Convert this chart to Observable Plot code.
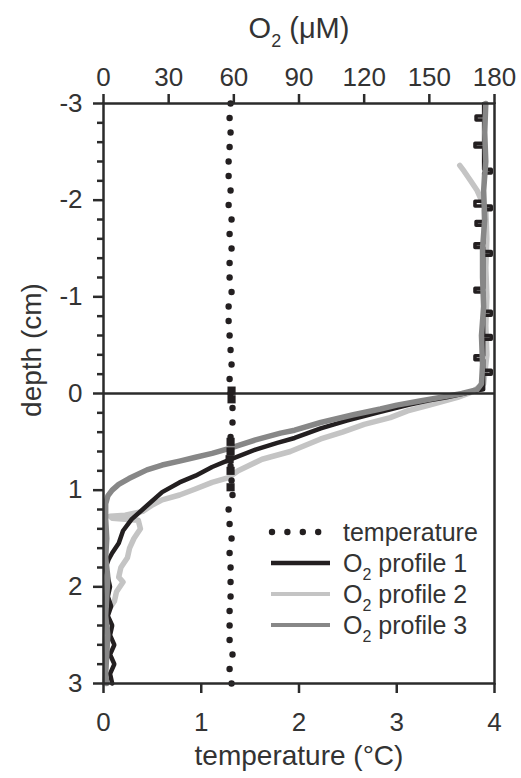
<!DOCTYPE html>
<html><head><meta charset="utf-8">
<script src="https://cdn.jsdelivr.net/npm/d3@7"></script>
<script src="https://cdn.jsdelivr.net/npm/@observablehq/plot@0.6"></script>
<style>
body{margin:0;background:#fff;}
#chart{width:521px;height:778px;}
</style>
</head><body><div id="chart"></div>
<script>
// ---- data ----
const tempTicks = [0, 1, 2, 3, 4];
const o2Ticks = [0, 30, 60, 90, 120, 150, 180];
const depthTicks = [-3, -2, -1, 0, 1, 2, 3];
const depthMinorTicks = [-2.8,-2.6,-2.4,-2.2,-1.8,-1.6,-1.4,-1.2,-0.8,-0.6,-0.4,-0.2,0.2,0.4,0.6,0.8,1.2,1.4,1.6,1.8,2.2,2.4,2.6,2.8];

const tempDepth = [-3,-2.85,-2.7,-2.55,-2.4,-2.25,-2.1,-1.95,-1.8,-1.65,-1.5,-1.35,-1.2,-1.05,-0.9,-0.75,-0.6,-0.45,-0.3,-0.15,0,
  0.15,0.3,0.45,0.6,0.75,0.9,1.05,1.2,1.35,1.5,1.65,1.8,1.95,2.1,2.25,2.4,2.55,2.7,2.85,3];
const tempValue = [1.30,1.29,1.30,1.29,1.28,1.28,1.30,1.28,1.31,1.29,1.31,1.29,1.29,1.31,1.28,1.28,1.29,1.30,1.31,1.29,1.30,
  1.32,1.32,1.30,1.30,1.30,1.31,1.32,1.28,1.29,1.31,1.29,1.30,1.30,1.30,1.29,1.29,1.29,1.32,1.29,1.31];
// square markers on the temperature trace
const tempSquareDepth = [-0.03, 0.06, 0.5, 0.6, 0.68, 0.8, 0.97];
const tempSquareValue = [1.31, 1.31, 1.30, 1.30, 1.29, 1.30, 1.30];

// O2 profile 1: water column (step-like readings) and sediment part
const p1UpperDepth = [-3,-2.87,-2.83,-2.59,-2.55,-2.32,-2.28,-1.99,-1.94,-1.90,-1.78,-1.74,-1.55,-1.51,-1.47,-1.43,-1.09,-1.05,-0.85,-0.81,-0.60,-0.56,-0.39,-0.35,-0.24,-0.20,-0.04];
const p1UpperO2 = [175,171.5,175,171,175,178.5,175,171,178.5,175,171.5,175,171,175,178.5,175,171,175,178.5,175,178.5,175,171,175,178.5,175,174];
const p1LowerDepth = [-0.04,0.0,0.04,0.07,0.12,0.19,0.28,0.36,0.46,0.51,0.58,0.69,0.76,0.85,0.92,1.02,1.12,1.2,1.3,1.42,1.55,1.65,1.72,1.8,1.9,2.0,2.1,2.2,2.3,2.4,2.5,2.6,2.7,2.8,2.9,3.0];
const p1LowerO2 = [174,166,158,150,140,127.5,112,100,88,80,70,57.6,50,42.4,35,27,22,18,13,9,7,4,2.3,1,2,3,2,3.5,2,4,3,5,3,5,3,4];

const p2Depth = [-2.36,-2.3,-2.2,-2.1,-1.9,-1.6,-1.3,-1.0,-0.7,-0.4,-0.1,-0.02,0.04,0.12,0.18,0.25,0.32,0.40,0.47,0.60,0.68,0.80,0.87,0.92,0.99,1.05,1.10,1.16,1.22,1.26,1.27,1.29,1.31,1.40,1.50,1.60,1.70,1.80,1.90,1.95,2.05,2.15,2.25,2.40,2.60,2.80,3.0];
const p2O2 = [164,166,169,172,176,176.5,176,176.5,176,176.5,175,170,163,150,140,132,120,110,100,86,73,62,57.6,50,42,35,27,22,18,10,3,4,16,17,14,12,11,8,7,9,6,5,2,1,0.5,1,0.5];

const p3Depth = [-3,-2.7,-2.4,-2.1,-1.8,-1.5,-1.2,-0.9,-0.6,-0.3,-0.1,-0.04,0.0,0.04,0.08,0.12,0.16,0.22,0.30,0.38,0.41,0.48,0.57,0.62,0.66,0.70,0.74,0.79,0.88,0.94,1.0,1.06,1.14,1.3,1.5,1.7,1.9,2.1,2.3,2.5,2.7,2.9,3.0];
const p3O2 = [176,175.5,176,175,175.5,174.5,174.5,175,174,174.5,174,172,165,155,145,135,127.5,115,100,88,81.5,70,57.6,50,42.4,35,27,20,11.7,7,4,2,1,1,1.5,1,2,1.5,1,2,1.5,1,1.5];

const seriesNames = ["temperature", "O2 profile 1", "O2 profile 2", "O2 profile 3"];
const seriesColors = ["#231f20", "#231f20", "#c4c4c4", "#878787"];

// ---- build tables ----
const O2_MAX = 180, T_MAX = 4;
const o2ToT = v => v * T_MAX / O2_MAX;
const temp = tempDepth.map((d, i) => ({depth: d, t: tempValue[i]}));
const tempSq = tempSquareDepth.map((d, i) => ({depth: d, t: tempSquareValue[i]}));
const prof = (dep, val) => dep.map((d, i) => ({depth: d, o2: val[i]}));
const p1u = prof(p1UpperDepth, p1UpperO2), p1l = prof(p1LowerDepth, p1LowerO2);
const p2 = prof(p2Depth, p2O2), p3 = prof(p3Depth, p3O2);

const FONT = "'Liberation Sans', Arial, Helvetica, sans-serif";
const INK = "#2b2b2b", TXT = "#333";
const TICK_FS = 26, TITLE_FS = 28, LEGEND_FS = 25;

const plot = Plot.plot({
  width: 521, height: 778,
  marginTop: 103, marginBottom: 95, marginLeft: 103, marginRight: 27,
  x: {domain: [0, T_MAX], axis: null},
  y: {domain: [-3, 3], reverse: true, axis: null},
  style: {fontFamily: FONT, fontSize: TICK_FS + "px", color: TXT, background: "white", overflow: "visible"},
  marks: [
    Plot.line(p2, {x: d => o2ToT(d.o2), y: "depth", stroke: seriesColors[2], strokeWidth: 5.5, strokeLinejoin: "round"}),
    Plot.line(p1u, {x: d => o2ToT(d.o2), y: "depth", stroke: seriesColors[1], strokeWidth: 3.5, curve: "step-before"}),
    Plot.line(p1l, {x: d => o2ToT(d.o2), y: "depth", stroke: seriesColors[1], strokeWidth: 4.5, strokeLinejoin: "miter"}),
    Plot.line(p3, {x: d => o2ToT(d.o2), y: "depth", stroke: seriesColors[3], strokeWidth: 5.5, strokeLinejoin: "round"}),
    Plot.ruleY([0], {stroke: INK, strokeWidth: 2.5}),
    Plot.dot(temp, {x: "t", y: "depth", r: 3.2, fill: seriesColors[0], stroke: null}),
    Plot.dot(tempSq, {x: "t", y: "depth", symbol: "square", r: 4.6, fill: seriesColors[0], stroke: null}),
    Plot.frame({stroke: INK, strokeWidth: 2.5}),
    Plot.axisX(tempTicks, {anchor: "bottom", tickSize: 10, tickPadding: 19, stroke: INK, strokeWidth: 2.5, fill: TXT, fontSize: TICK_FS, label: null}),
    Plot.axisX(o2Ticks.map(o2ToT), {anchor: "top", tickSize: 10, tickPadding: 8, stroke: INK, strokeWidth: 2.5, fill: TXT, fontSize: TICK_FS, label: null,
      tickFormat: t => String(Math.round(t * O2_MAX / T_MAX))}),
    Plot.axisY(depthTicks, {anchor: "left", tickSize: 10, tickPadding: 11, stroke: INK, strokeWidth: 2.5, fill: TXT, fontSize: TICK_FS, label: null,
      tickFormat: d => String(d)}),
    Plot.axisY(depthMinorTicks, {anchor: "left", tickSize: 6, stroke: INK, strokeWidth: 2.5, label: null, tickFormat: () => ""}),
    Plot.text(["temperature (°C)"], {frameAnchor: "bottom", lineAnchor: "middle", dy: 73, fontSize: TITLE_FS, fill: TXT}),
    Plot.text(["O2 (μM)"], {frameAnchor: "top", lineAnchor: "middle", dy: -75, fontSize: TITLE_FS + 1, fill: TXT})
  ]
});
document.getElementById("chart").appendChild(plot);

const svg = d3.select(plot);
function subscriptO2(sel, rest, fs) {
  sel.text(null);
  sel.append("tspan").text("O");
  sel.append("tspan").attr("font-size", Math.round(fs * 0.62)).attr("dy", Math.round(fs * 0.3)).text("2");
  sel.append("tspan").attr("dy", -Math.round(fs * 0.3)).text(rest);
}
svg.selectAll("text").each(function() {
  const t = d3.select(this);
  if (t.text() === "O2 (μM)") subscriptO2(t, " (μM)", TITLE_FS + 1);
});

// left axis title
svg.append("text")
  .attr("transform", "translate(41,350) rotate(-90)")
  .attr("text-anchor", "middle")
  .attr("font-family", FONT).attr("font-size", TITLE_FS).attr("fill", TXT)
  .text("depth (cm)");

// legend
const lg = svg.append("g").attr("font-family", FONT).attr("font-size", LEGEND_FS).attr("fill", TXT).attr("text-anchor", "start");
const lx0 = 271, lx1 = 330, ltx = 343, ly0 = 532, ldy = 31;
seriesNames.forEach((name, i) => {
  const y = ly0 + i * ldy;
  if (i === 0) {
    [0, 1, 2, 3].forEach(k => lg.append("circle").attr("cx", lx0 + 1 + k * 15.4).attr("cy", y).attr("r", 3.2).attr("fill", seriesColors[0]));
  } else {
    lg.append("line").attr("x1", lx0).attr("x2", lx1).attr("y1", y).attr("y2", y)
      .attr("stroke", seriesColors[i]).attr("stroke-width", i === 1 ? 4.5 : 4);
  }
  const t = lg.append("text").attr("x", ltx).attr("y", y).attr("dy", "0.35em");
  if (name.startsWith("O2")) subscriptO2(t, name.slice(2), LEGEND_FS); else t.text(name);
});
</script>
</body></html>
